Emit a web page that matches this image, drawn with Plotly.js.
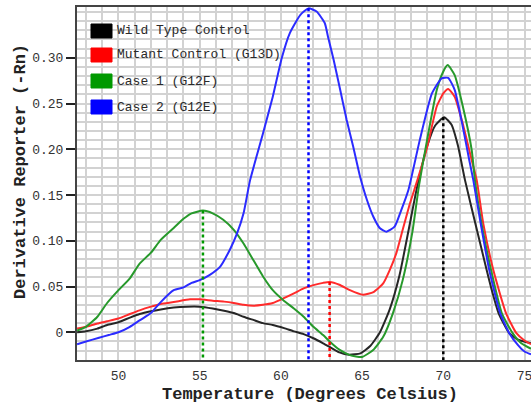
<!DOCTYPE html>
<html>
<head>
<meta charset="utf-8">
<script src="https://cdn.plot.ly/plotly-3.0.1.min.js"></script>
<style>html,body{margin:0;padding:0;background:#fff;}#chart{width:531px;height:404px;}</style>
</head>
<body>
<div id="chart"></div>
<script>
// ---- data ----
const seriesNames = ["Wild Type Control", "Mutant Control (G13D)", "Case 1 (G12F)", "Case 2 (G12E)"];

const wildT = [47.45,48.0,48.7,49.3,50.0,50.7,51.3,52.0,52.6,53.4,54.2,55.0,55.8,56.5,57.1,57.7,58.3,58.9,59.5,60.2,60.8,61.4,62.0,62.6,63.0,63.6,64.2,64.9,65.5,66.1,66.7,67.3,67.9,68.4,69.0,69.5,70.05,70.5,70.9,71.34,72.0,72.67,73.0,73.4,74.06,74.6,75.4];
const wildY = [0.000,0.001,0.004,0.008,0.011,0.016,0.020,0.023,0.025,0.027,0.028,0.028,0.026,0.0235,0.021,0.017,0.0135,0.010,0.008,0.0045,0.001,-0.002,-0.0065,-0.012,-0.016,-0.022,-0.0245,-0.023,-0.015,0.000,0.025,0.062,0.115,0.160,0.203,0.226,0.235,0.227,0.204,0.166,0.117,0.068,0.045,0.021,-0.001,-0.008,-0.012];

const mutT = [47.45,48.0,48.7,49.3,50.0,50.7,51.3,52.0,52.6,53.4,54.4,55.0,55.8,56.5,57.1,57.7,58.3,58.9,59.5,60.15,60.8,61.4,62.0,62.6,63.0,63.6,64.25,65.05,65.7,66.3,66.7,67.1,67.5,67.95,68.4,69.0,69.6,70.0,70.3,70.7,71.2,71.75,72.06,72.46,73.08,73.86,74.5,75.0,75.4];
const mutY = [0.004,0.006,0.0095,0.012,0.015,0.020,0.024,0.028,0.031,0.033,0.036,0.036,0.0345,0.0335,0.032,0.030,0.029,0.030,0.032,0.037,0.0425,0.048,0.0515,0.054,0.055,0.052,0.046,0.041,0.044,0.0535,0.068,0.086,0.112,0.141,0.166,0.202,0.247,0.261,0.266,0.2575,0.228,0.188,0.166,0.119,0.068,0.021,-0.001,-0.009,-0.013];

const case1T = [47.45,48.0,48.7,49.3,50.0,50.7,51.3,52.0,52.6,53.4,54.0,54.5,55.2,55.8,56.45,57.1,57.7,58.3,58.9,59.5,60.15,60.8,61.4,62.0,62.6,63.0,63.6,64.25,65.0,65.7,66.3,66.9,67.5,68.1,68.5,69.0,69.6,70.0,70.27,70.7,71.2,71.75,71.95,72.35,72.94,73.6,74.27,74.8,75.4];
const case1Y = [0.002,0.006,0.017,0.032,0.046,0.059,0.075,0.087,0.101,0.114,0.124,0.130,0.133,0.130,0.123,0.112,0.097,0.079,0.061,0.046,0.035,0.026,0.017,0.006,-0.003,-0.010,-0.019,-0.025,-0.027,-0.019,-0.005,0.021,0.057,0.110,0.160,0.210,0.265,0.285,0.292,0.281,0.247,0.199,0.166,0.119,0.068,0.021,-0.001,-0.012,-0.018];

const case2T = [47.45,48.0,48.8,49.4,50.0,50.7,51.3,52.0,52.6,53.4,54.0,54.5,55.0,55.6,56.25,56.85,57.3,57.7,58.1,58.9,59.5,60.05,60.55,61.2,61.7,62.2,62.7,62.9,63.25,63.65,64.05,64.45,64.85,65.3,65.7,66.1,66.5,67.0,67.4,67.85,68.55,69.3,69.9,70.3,70.7,71.2,71.6,71.85,72.3,72.83,73.5,74.06,74.6,75.0,75.4];
const case2Y = [-0.013,-0.010,-0.006,-0.003,0.000,0.006,0.013,0.021,0.033,0.046,0.049,0.054,0.057,0.0625,0.0715,0.090,0.108,0.130,0.166,0.2175,0.2575,0.2995,0.327,0.347,0.354,0.3505,0.338,0.323,0.2976,0.265,0.232,0.203,0.172,0.1446,0.126,0.1137,0.110,0.1154,0.133,0.1555,0.210,0.261,0.2776,0.278,0.265,0.2247,0.188,0.166,0.119,0.068,0.021,-0.001,-0.014,-0.021,-0.024];

// melting temperature markers (dotted drop lines): Tm and peak height
const tmTemps = [70.0, 63.0, 55.2, 61.7];
const tmPeaks = [0.235, 0.055, 0.133, 0.354];

const xTickVals = [50, 55, 60, 65, 70, 75];
const xTickText = ["50", "55", "60", "65", "70", "75"];
const yTickVals = [0, 0.05, 0.10, 0.15, 0.20, 0.25, 0.30];
const yTickText = ["0", "0.05", "0.10", "0.15", "0.20", "0.25", "0.30"];

// ---- styling ----
const lineColors = ["#262626", "#ff2b2b", "#27992b", "#2b2bff"];
const swatchColors = ["#000000", "#ff0000", "#009900", "#0000ff"];
const xRange = [47.445, 75.40];
const yRange = [-0.0303, 0.3555];
const mono = "Liberation Mono, Courier New, monospace";
const gridC = "#d2d2d2";

const seriesT = [wildT, mutT, case1T, case2T];
const seriesY = [wildY, mutY, case1Y, case2Y];

const traces = [];
for (let i = 0; i < 4; i++) {
  traces.push({
    x: seriesT[i], y: seriesY[i], type: "scatter", mode: "lines",
    name: seriesNames[i], showlegend: false, hoverinfo: "skip",
    line: {color: lineColors[i], width: 2, shape: "spline", smoothing: 0.5}
  });
}
for (let i = 0; i < 4; i++) {
  traces.push({
    x: [tmTemps[i], tmTemps[i]], y: [tmPeaks[i], yRange[0]],
    type: "scatter", mode: "lines", showlegend: false, hoverinfo: "skip",
    line: {color: swatchColors[i], width: 2.5, dash: "dot"}
  });
}

// legend drawn as swatches + text (paper coordinates)
const W = 531, H = 404, mL = 77, mR = 0, mT = 7, mB = 44;
const pw = W - mL - mR, ph = H - mT - mB;
const px2paper = p => (p - mL) / pw;
const py2paper = p => (H - mB - p) / ph;
const legendRows = [31, 55, 81, 107];
const shapes = [], annotations = [];
for (let i = 0; i < 4; i++) {
  shapes.push({
    type: "rect", xref: "paper", yref: "paper",
    x0: px2paper(91), x1: px2paper(112),
    y0: py2paper(legendRows[i] - 7), y1: py2paper(legendRows[i] + 7),
    fillcolor: swatchColors[i], line: {color: swatchColors[i], width: 1}
  });
  annotations.push({
    xref: "paper", yref: "paper", x: px2paper(115), y: py2paper(legendRows[i]),
    xanchor: "left", yanchor: "middle", showarrow: false,
    text: seriesNames[i], font: {family: mono, size: 13, color: "#2a2a2a"}
  });
}
// axis titles
annotations.push({
  xref: "paper", yref: "paper", x: px2paper(310), y: py2paper(394),
  xanchor: "center", yanchor: "middle", showarrow: false,
  text: "<b>Temperature (Degrees Celsius)</b>", font: {family: mono, size: 17, color: "#222"}
});
annotations.push({
  xref: "paper", yref: "paper", x: px2paper(20), y: py2paper(172),
  xanchor: "center", yanchor: "middle", showarrow: false, textangle: -90,
  text: "<b>Derivative Reporter (-Rn)</b>", font: {family: mono, size: 17, color: "#222"}
});

const layout = {
  width: W, height: H, autosize: false,
  margin: {l: mL, r: mR, t: mT, b: mB, pad: 0},
  paper_bgcolor: "#ffffff", plot_bgcolor: "#ffffff",
  showlegend: false,
  xaxis: {
    range: xRange, tickmode: "array", tickvals: xTickVals, ticktext: xTickText,
    ticks: "", ticklabelstandoff: 2, ticklabeloverflow: "allow",
    showgrid: true, gridcolor: gridC, gridwidth: 2,
    minor: {tickmode: "linear", tick0: 0, dtick: 1, showgrid: true, gridcolor: gridC, gridwidth: 2, ticks: ""},
    showline: true, linecolor: "#444", linewidth: 2, mirror: true, zeroline: false,
    tickfont: {family: mono, size: 13, color: "#333"}
  },
  yaxis: {
    range: yRange, tickmode: "array", tickvals: yTickVals, ticktext: yTickText,
    ticks: "outside", ticklen: 9, tickwidth: 2, tickcolor: "#222",
    showgrid: true, gridcolor: gridC, gridwidth: 2,
    minor: {tickmode: "linear", tick0: 0, dtick: 0.01, showgrid: true, gridcolor: gridC, gridwidth: 2, ticks: ""},
    showline: true, linecolor: "#444", linewidth: 2, mirror: false, zeroline: false,
    tickfont: {family: mono, size: 13, color: "#333"}
  },
  xaxis2: {
    overlaying: "x", anchor: "y", side: "bottom", range: xRange,
    tickmode: "array", tickvals: xTickVals, ticks: "inside", ticklen: 7, tickwidth: 2, tickcolor: "#222",
    showticklabels: false, showgrid: false, showline: false, zeroline: false
  },
  xaxis3: {
    overlaying: "x", anchor: "y", side: "bottom", range: xRange,
    tickmode: "array", tickvals: xTickVals, ticks: "outside", ticklen: 8, tickwidth: 2, tickcolor: "#222",
    showticklabels: false, showgrid: false, showline: false, zeroline: false
  },
  yaxis2: {
    overlaying: "y", anchor: "x", side: "left", range: yRange,
    tickmode: "array", tickvals: yTickVals, ticks: "inside", ticklen: 9, tickwidth: 2, tickcolor: "#222",
    showticklabels: false, showgrid: false, showline: false, zeroline: false
  },
  shapes: shapes,
  annotations: annotations
};

Plotly.newPlot("chart", traces, layout, {staticPlot: true, displayModeBar: false});
</script>
</body>
</html>
